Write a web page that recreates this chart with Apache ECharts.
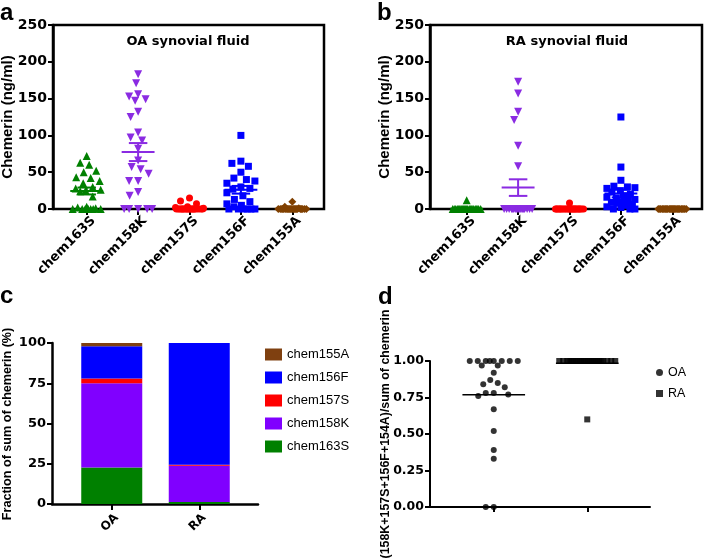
<!DOCTYPE html>
<html><head><meta charset="utf-8">
<script src="https://cdn.jsdelivr.net/npm/echarts@6/dist/echarts.min.js"></script>
<style>html,body{margin:0;padding:0;background:#fff}#c{width:707px;height:559px}</style>
</head><body><div id="c"></div>
<script>
// ---------- DATA ----------
const categories = ['chem163S', 'chem158K', 'chem157S', 'chem156F', 'chem155A'];
const groups = ['OA', 'RA'];

// Panel a: OA synovial fluid (ng/ml)
const oa163S = [72, 63, 60, 52, 50, 43, 42, 38, 35, 30, 28, 26, 25, 24, 17, 3, 2, 1, 0, 0, 0, 0, 0, 0, 0];
const oa158K = [183, 171, 156, 153, 149, 147, 132, 125, 104, 97, 93, 82, 66, 57, 54, 48, 38, 38, 23, 18, 0, 0, 0, 0, 0];
const oa157S = [15, 11, 7, 3, 2, 1, 0, 0, 0, 0, 0, 0, 0, 0, 0, 0, 0, 0, 0, 0, 0, 0, 0, 0, 0];
const oa156F = [100, 65, 62, 58, 50, 42, 40, 38, 35, 30, 28, 27, 22, 18, 13, 10, 7, 5, 3, 0, 0, 0, 0, 0, 0];
const oa155A = [10, 3, 1, 0, 0, 0, 0, 0, 0, 0, 0, 0, 0, 0, 0, 0, 0, 0, 0, 0, 0, 0, 0, 0, 0];

// Panel b: RA synovial fluid (ng/ml)
const ra163S = [12, 0, 0, 0, 0, 0, 0, 0, 0, 0, 0, 0, 0, 0, 0, 0, 0, 0, 0, 0, 0, 0, 0, 0, 0];
const ra158K = [173, 157, 132, 121, 86, 58, 0, 0, 0, 0, 0, 0, 0, 0, 0, 0, 0, 0, 0, 0, 0, 0, 0, 0, 0];
const ra157S = [8, 0, 0, 0, 0, 0, 0, 0, 0, 0, 0, 0, 0, 0, 0, 0, 0, 0, 0, 0, 0, 0, 0, 0, 0];
const ra156F = [125, 57, 39, 31, 30, 29, 28, 25, 23, 20, 18, 16, 15, 13, 12, 10, 9, 8, 6, 5, 3, 2, 0, 0, 0];
const ra155A = [0, 0, 0, 0, 0, 0, 0, 0, 0, 0, 0, 0, 0, 0, 0, 0, 0, 0, 0, 0, 0, 0, 0, 0, 0];

// Panel c: fraction of sum of chemerin (%), per group [OA, RA]
const frac163S = [22.7, 1.2];
const frac158K = [52.3, 22.6];
const frac157S = [3.0, 0.6];
const frac156F = [20.0, 75.6];
const frac155A = [2.0, 0.0];

// Panel d: (158K+157S+156F+154A)/sum of chemerin
const ratioOA = [1, 1, 1, 1, 1, 1, 1, 1, 0.97, 0.97, 0.92, 0.87, 0.85, 0.84, 0.82, 0.78, 0.78, 0.77, 0.76, 0.67, 0.52, 0.39, 0.33, 0, 0];
const ratioRA = [1, 1, 1, 1, 1, 1, 1, 1, 1, 1, 1, 1, 1, 1, 1, 1, 1, 1, 1, 1, 1, 1, 1, 1, 0.60];

// ---------- LAYOUT / STYLE ----------
const BLACK = '#000';
const colAB = ['#008000', '#8a2be2', '#ff0000', '#0000ff', '#804000'];
const colC = ['#008000', '#8000ff', '#ff0000', '#0000ff', '#7f4010'];
const symAB = [
  { symbol: 'triangle', rot: 0, size: 8 },
  { symbol: 'triangle', rot: 180, size: 8 },
  { symbol: 'circle', rot: 0, size: 7 },
  { symbol: 'rect', rot: 0, size: 7 },
  { symbol: 'diamond', rot: 0, size: 8 }
];
const GA = { left: 53, top: 25, width: 271, height: 184 };
const GAc = { left: 61, top: 25, width: 257, height: 184 };
const GB = { left: 430, top: 25, width: 272, height: 184 };
const GBc = { left: 441, top: 25, width: 257, height: 184 };
const GC = { left: 52, top: 343, width: 206, height: 161 };
const GCc = { left: 68, top: 343, width: 175, height: 161 };
const GD = { left: 430, top: 361, width: 220, height: 146 };
const GDc = { left: 447, top: 361, width: 187, height: 146 };

// deterministic beeswarm layout (pixel space) -> offsets in category units
function swarm(values, pxPerUnit, bandPx, diam, capPx) {
  const order = values.map((v, i) => i).sort((a, b) => values[b] - values[a]);
  const cands = [0];
  for (let k = 0.5; k <= capPx; k += 0.5) { cands.push(-k); cands.push(k); }
  const placed = [];
  const off = new Array(values.length).fill(0);
  for (const i of order) {
    const y = values[i] * pxPerUnit;
    let best = 0, bestScore = -1;
    for (const x of cands) {
      let minD = Infinity;
      for (const p of placed) {
        const d = Math.hypot(x - p[0], y - p[1]);
        if (d < minD) minD = d;
      }
      if (minD >= diam) { best = x; bestScore = Infinity; break; }
      if (minD > bestScore + 1e-6) { bestScore = minD; best = x; }
    }
    placed.push([best, y]);
    off[i] = best / bandPx;
  }
  return off;
}
function stats(arr) {
  const n = arr.length;
  const m = arr.reduce((s, v) => s + v, 0) / n;
  const sd = Math.sqrt(arr.reduce((s, v) => s + (v - m) * (v - m), 0) / (n - 1));
  return { mean: m, sem: sd / Math.sqrt(n) };
}

function dotSeries(list, xIdx, yIdx, prefix, pxPerUnit, band) {
  const out = [];
  list.forEach((vals, i) => {
    const off = swarm(vals, pxPerUnit, band, 9, 14);
    out.push({
      type: 'scatter', name: prefix + categories[i], xAxisIndex: xIdx, yAxisIndex: yIdx,
      symbol: symAB[i].symbol, symbolRotate: symAB[i].rot, symbolSize: symAB[i].size,
      itemStyle: { color: colAB[i], opacity: 1 }, clip: false, z: 3, silent: true,
      data: vals.map((v, k) => [i + off[k], v])
    });
  });
  out.push({
    type: 'custom', xAxisIndex: xIdx, yAxisIndex: yIdx, z: 4, silent: true, clip: false,
    data: list.map((vals, i) => { const s = stats(vals); return { value: [i, s.mean, s.sem], itemStyle: { color: colAB[i] } }; }),
    renderItem: (params, api) => {
      const x = api.value(0), m = api.value(1), s = api.value(2);
      const c = api.coord([x, m]);
      const hw = api.size([0.32, 0])[0];
      const cw = api.size([0.18, 0])[0];
      const t = api.coord([x, m + s]);
      const b = api.coord([x, Math.max(0, m - s)]);
      const st = { stroke: api.visual('color'), lineWidth: 2 };
      return { type: 'group', children: [
        { type: 'line', shape: { x1: c[0] - hw, y1: c[1], x2: c[0] + hw, y2: c[1] }, style: st },
        { type: 'line', shape: { x1: c[0], y1: t[1], x2: c[0], y2: b[1] }, style: st },
        { type: 'line', shape: { x1: c[0] - cw, y1: t[1], x2: c[0] + cw, y2: t[1] }, style: st },
        { type: 'line', shape: { x1: c[0] - cw, y1: b[1], x2: c[0] + cw, y2: b[1] }, style: st }
      ] };
    }
  });
  return out;
}

const boldDV = { fontFamily: 'DejaVu Sans', fontWeight: 'bold', color: BLACK };

function frameGrid(g, border) {
  return Object.assign({ show: border, borderColor: BLACK, borderWidth: 2.5, backgroundColor: 'transparent', containLabel: false }, g);
}
function hiddenX(gi, min, max) {
  return { type: 'value', gridIndex: gi, min: min, max: max, show: false };
}
function hiddenY(gi, min, max) {
  return { type: 'value', gridIndex: gi, min: min, max: max, show: false };
}
function lineX(gi, w) {
  return { type: 'value', gridIndex: gi, min: 0, max: 1, axisLine: { show: true, onZero: false, lineStyle: { color: BLACK, width: w } },
    axisTick: { show: false }, axisLabel: { show: false }, splitLine: { show: false } };
}
function catX(gi, data, labels, fs, tickLen, margin, padTop) {
  return { type: 'category', gridIndex: gi, data: data, axisLine: { show: false },
    axisTick: { show: true, alignWithLabel: true, length: tickLen, lineStyle: { color: BLACK, width: 2 } },
    axisLabel: Object.assign({ show: labels, rotate: 45, margin: margin, fontSize: fs, interval: 0,
      verticalAlign: 'top', padding: [padTop, 0, 0, 0] }, boldDV) };
}
function valY(gi, max, step, fs, w, fmt) {
  return { type: 'value', gridIndex: gi, min: 0, max: max, interval: step,
    axisLine: { show: true, onZero: false, lineStyle: { color: BLACK, width: w } },
    axisTick: { show: true, length: 5, lineStyle: { color: BLACK, width: 2 } },
    axisLabel: Object.assign({ margin: 6, fontSize: fs, formatter: fmt }, boldDV),
    splitLine: { show: false } };
}

const PX_AB = GAc.height / 250;
const BAND_AB = GAc.width / categories.length;

const series = [];
series.push(...dotSeries([oa163S, oa158K, oa157S, oa156F, oa155A], 2, 1, 'OA ', PX_AB, BAND_AB));
series.push(...dotSeries([ra163S, ra158K, ra157S, ra156F, ra155A], 5, 3, 'RA ', PX_AB, BAND_AB));

// panel c stacked bars
[frac163S, frac158K, frac157S, frac156F, frac155A].forEach((arr, i) => {
  series.push({ type: 'bar', name: categories[i], stack: 'frac', xAxisIndex: 7, yAxisIndex: 5,
    barWidth: 61, itemStyle: { color: colC[i] }, silent: true, data: arr });
});

// panel d
const PX_D = GDc.height / 1;
const BAND_D = GDc.width / 2;
const offOA = swarm(ratioOA, PX_D, BAND_D, 8, 28);
const offRA = swarm(ratioRA, PX_D, BAND_D, 8, 28);
series.push({ type: 'scatter', name: 'OA', xAxisIndex: 10, yAxisIndex: 7, symbol: 'circle', symbolSize: 6,
  itemStyle: { color: BLACK }, clip: false, silent: true, data: ratioOA.map((v, k) => [0 + offOA[k], v]) });
series.push({ type: 'scatter', name: 'RA', xAxisIndex: 10, yAxisIndex: 7, symbol: 'rect', symbolSize: 6,
  itemStyle: { color: BLACK }, clip: false, silent: true, data: ratioRA.map((v, k) => [1 + offRA[k], v]) });
series.push({ type: 'custom', xAxisIndex: 10, yAxisIndex: 7, z: 4, silent: true, clip: false,
  data: [ratioOA, ratioRA].map((a, i) => [i, stats(a).mean]),
  renderItem: (params, api) => {
    const c = api.coord([api.value(0), api.value(1)]);
    const hw = api.size([0.335, 0])[0];
    return { type: 'line', shape: { x1: c[0] - hw, y1: c[1], x2: c[0] + hw, y2: c[1] }, style: { stroke: BLACK, lineWidth: 1.5 } };
  }
});

const option = {
  animation: false,
  textStyle: { fontFamily: 'DejaVu Sans' },
  grid: [frameGrid(GA, true), frameGrid(GAc, false), frameGrid(GB, true), frameGrid(GBc, false),
         frameGrid(GC, false), frameGrid(GCc, false), frameGrid(GD, false), frameGrid(GDc, false)],
  xAxis: [
    hiddenX(0, 0, 1),                             // 0
    catX(1, categories, true, 13, 6, 3, 3),       // 1
    hiddenX(1, -0.5, 4.5),                        // 2
    hiddenX(2, 0, 1),                             // 3
    catX(3, categories, true, 13, 6, 3, 3),       // 4
    hiddenX(3, -0.5, 4.5),                        // 5
    lineX(4, 2.5),                                // 6
    catX(5, groups, true, 12, 6, 7, 1),           // 7
    lineX(6, 2),                                  // 8
    catX(7, groups, false, 12, 5, 8, 0),          // 9
    hiddenX(7, -0.5, 1.5)                         // 10
  ],
  yAxis: [
    valY(0, 250, 50, 14, 2.5),                  // 0
    hiddenY(1, 0, 250),                         // 1
    valY(2, 250, 50, 14, 2.5),                  // 2
    hiddenY(3, 0, 250),                         // 3
    valY(4, 100, 25, 13, 2.5),                  // 4
    hiddenY(5, 0, 100),                         // 5
    valY(6, 1, 0.25, 12.5, 2, v => v.toFixed(2)), // 6
    hiddenY(7, 0, 1)                            // 7
  ],
  legend: [
    { data: ['chem155A', 'chem156F', 'chem157S', 'chem158K', 'chem163S'], orient: 'vertical', left: 260, top: 343,
      itemWidth: 17, itemHeight: 12, itemGap: 10, icon: 'rect', selectedMode: false,
      textStyle: { fontFamily: 'Liberation Sans', fontSize: 13, color: BLACK } },
    { data: [{ name: 'OA', icon: 'circle' }, { name: 'RA', icon: 'rect' }], orient: 'vertical', left: 651, top: 361,
      itemWidth: 7, itemHeight: 7, itemGap: 8, selectedMode: false,
      textStyle: { fontFamily: 'Liberation Sans', fontSize: 12.5, color: BLACK } }
  ],
  graphic: [
    { type: 'text', x: 0, y: 13, style: { text: 'a', font: 'bold 24px "Liberation Sans"', fill: BLACK, verticalAlign: 'middle' } },
    { type: 'text', x: 377, y: 13, style: { text: 'b', font: 'bold 24px "Liberation Sans"', fill: BLACK, verticalAlign: 'middle' } },
    { type: 'text', x: 0, y: 296, style: { text: 'c', font: 'bold 24px "Liberation Sans"', fill: BLACK, verticalAlign: 'middle' } },
    { type: 'text', x: 378, y: 297, style: { text: 'd', font: 'bold 24px "Liberation Sans"', fill: BLACK, verticalAlign: 'middle' } },
    { type: 'text', x: 188, y: 42, style: { text: 'OA synovial fluid', font: 'bold 13px "DejaVu Sans"', fill: BLACK, align: 'center', verticalAlign: 'middle' } },
    { type: 'text', x: 567, y: 42, style: { text: 'RA synovial fluid', font: 'bold 13px "DejaVu Sans"', fill: BLACK, align: 'center', verticalAlign: 'middle' } },
    { type: 'text', x: 8, y: 117, rotation: Math.PI / 2, style: { text: 'Chemerin (ng/ml)', font: 'bold 15px "Liberation Sans"', fill: BLACK, align: 'center', verticalAlign: 'middle' } },
    { type: 'text', x: 385, y: 117, rotation: Math.PI / 2, style: { text: 'Chemerin (ng/ml)', font: 'bold 15px "Liberation Sans"', fill: BLACK, align: 'center', verticalAlign: 'middle' } },
    { type: 'text', x: 8, y: 424, rotation: Math.PI / 2, style: { text: 'Fraction of sum of chemerin (%)', font: 'bold 12.6px "Liberation Sans"', fill: BLACK, align: 'center', verticalAlign: 'middle' } },
    { type: 'text', x: 386, y: 434, rotation: Math.PI / 2, style: { text: '(158K+157S+156F+154A)/sum of chemerin', font: 'bold 12.4px "Liberation Sans"', fill: BLACK, align: 'center', verticalAlign: 'middle' } }
  ],
  series: series
};
const chart = echarts.init(document.getElementById('c'), null, { renderer: 'canvas' });
chart.setOption(option);
</script></body></html>
